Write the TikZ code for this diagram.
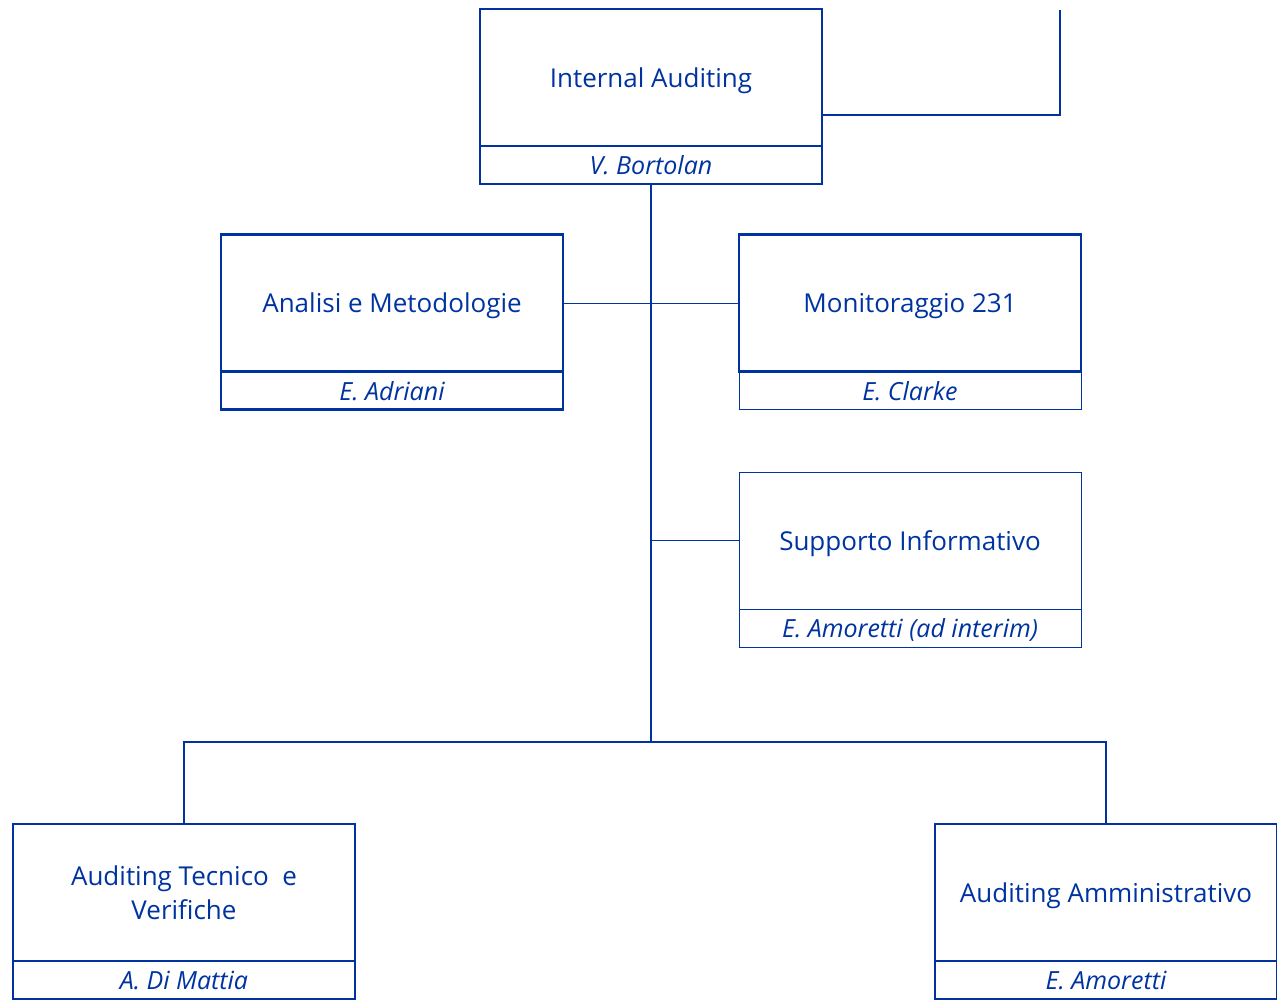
\documentclass[tikz,border=0pt]{standalone}
\usepackage{fontspec}
\setmainfont{Open Sans}
\usetikzlibrary{positioning}
\definecolor{OrgBlue}{RGB}{0,51,160}

\begin{document}
\begin{tikzpicture}[x=1pt,y=-1pt,
  unit/.style={draw=OrgBlue,line width=2.8pt,outer sep=0pt,inner sep=0pt,
    minimum width=342pt,minimum height=137pt,align=center,text=OrgBlue,
    text depth=0pt,font=\fontsize{26}{34}\selectfont},
  unitthin/.style={unit,line width=1pt},
  head/.style={draw=OrgBlue,line width=2.8pt,outer sep=0pt,inner sep=0pt,
    minimum width=342pt,minimum height=38pt,text=OrgBlue,
    text depth=0pt,font=\itshape\fontsize{25}{28}\selectfont},
  headthin/.style={head,line width=1pt},
  link/.style={draw=OrgBlue,line width=2.8pt},
  linkthin/.style={draw=OrgBlue,line width=1pt}]
  \useasboundingbox (0,0) rectangle (1277,1002);

  % units and heads
  \node[unit] (audit) at (651,77.5) {Internal Auditing};
  \node[head,below=0pt of audit] (audit-head) {V. Bortolan};
  \node[unit] (analisi) at (392,303) {Analisi e Metodologie};
  \node[head,below=0pt of analisi] (analisi-head) {E. Adriani};
  \node[unit] (monitor) at (910,303) {Monitoraggio 231};
  \node[headthin,below=0pt of monitor] (monitor-head) {E. Clarke};
  \node[unitthin] (supporto) at (910,540.5) {Supporto Informativo};
  \node[headthin,below=0pt of supporto] (supporto-head) {E. Amoretti (ad interim)};
  \node[unit] (tecnico) at (184,892.5) {Auditing Tecnico~ e\\Verifiche};
  \node[head,below=0pt of tecnico] (tecnico-head) {A. Di Mattia};
  \node[unit] (ammin) at (1106,892.5) {Auditing Amministrativo};
  \node[head,below=0pt of ammin] (ammin-head) {E. Amoretti};

  \coordinate (upper) at (1060,10);
  \coordinate (bus) at (651,742);

  % connectors
  \draw[link] ([yshift=-37.5pt]audit.east) -| (upper);
  \draw[link] (audit-head.south) -- (bus);
  \draw[link] (tecnico.north) |- (bus) -| (ammin.north);
  \draw[linkthin] (analisi.east) -- (monitor.west);
  \draw[linkthin] (audit-head.south |- supporto.west) -- (supporto.west);
\end{tikzpicture}
\end{document}
